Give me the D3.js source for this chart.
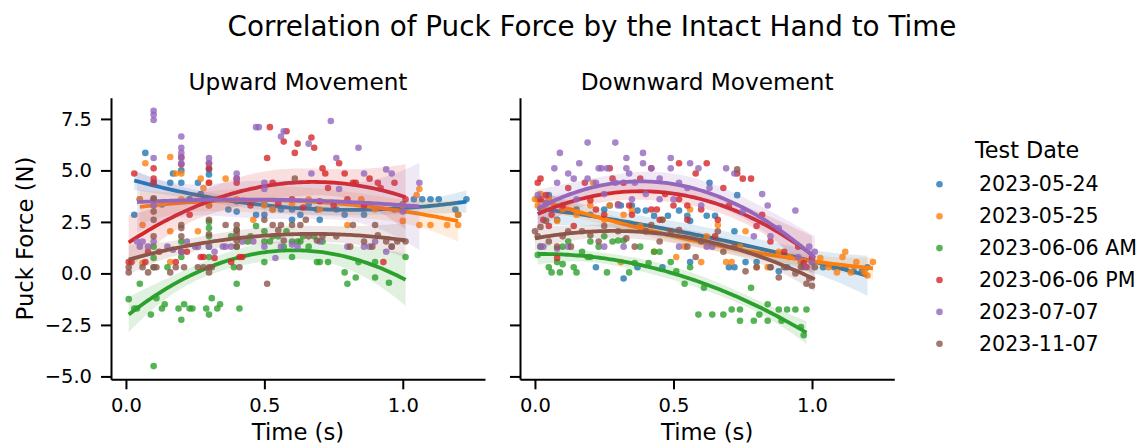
<!DOCTYPE html>
<html>
<head>
<meta charset="utf-8">
<script src="https://cdn.jsdelivr.net/npm/d3@7"></script>
<style>
  body { margin: 0; background: #fff; }
  svg { font-family: "DejaVu Sans", sans-serif; }
</style>
</head>
<body>
<div id="chart"></div>
<script>
// Test dates (hue levels) and tab10 colours
var dates = ["2023-05-24", "2023-05-25", "2023-06-06 AM", "2023-06-06 PM", "2023-07-07", "2023-11-07"];
var colors = ["#1f77b4", "#ff7f0e", "#2ca02c", "#d62728", "#9467bd", "#8c564b"];
var panels = ["Upward Movement", "Downward Movement"];
var xTicks = [0.0, 0.5, 1.0];
var yTicks = [-5.0, -2.5, 0.0, 2.5, 5.0, 7.5];

// [time (s), force (N)] -- upward movement
var up0524 = [[0.03,2.85],[0.05,3.6],[0.07,5.85],[0.1,4.4],[0.1,3.6],[0.13,3.35],[0.16,4.4],[0.17,4.85],[0.2,4.4],[0.2,5.0],[0.23,3.6],[0.26,4.4],[0.27,3.85],[0.3,5.05],[0.3,4.8],[0.3,3.3],[0.37,3.1],[0.4,3.0],[0.4,3.5],[0.47,2.85],[0.5,2.85],[0.5,3.35],[0.53,3.1],[0.56,3.1],[0.6,2.6],[0.6,3.1],[0.63,2.85],[0.66,3.35],[0.69,3.1],[0.7,2.6],[0.76,3.1],[0.79,2.85],[0.85,3.35],[0.86,2.85],[0.88,3.35],[0.97,3.1],[1.0,3.35],[1.04,3.6],[1.07,3.6],[1.1,3.6],[1.13,3.6],[1.19,3.1],[1.2,2.85],[1.23,3.6]];
var up0525 = [[0.05,3.6],[0.06,2.35],[0.06,0.5],[0.07,5.35],[0.1,3.3],[0.16,5.65],[0.16,2.05],[0.16,0.55],[0.18,4.85],[0.2,4.85],[0.2,3.6],[0.26,2.05],[0.27,4.6],[0.28,4.15],[0.3,4.4],[0.3,3.3],[0.36,4.6],[0.4,3.6],[0.46,2.6],[0.5,3.3],[0.53,3.1],[0.6,3.4],[0.66,3.6],[0.7,3.1],[0.8,2.35],[0.85,3.6],[0.9,3.1],[1.0,2.55],[1.0,3.3],[1.05,3.8],[1.06,4.1],[1.06,2.35],[1.1,2.35],[1.16,2.35],[1.2,2.35],[1.2,2.85]];
var up0606am = [[0.01,-1.25],[0.03,-1.7],[0.04,-1.7],[0.05,-0.5],[0.09,-2.0],[0.1,0.75],[0.1,1.3],[0.1,0.3],[0.1,-4.5],[0.11,-1.2],[0.13,-1.7],[0.14,-1.5],[0.15,0.3],[0.19,-1.7],[0.2,-2.25],[0.2,0.8],[0.2,1.55],[0.21,-1.5],[0.23,-1.7],[0.24,-1.7],[0.29,-1.7],[0.3,-2.0],[0.3,2.5],[0.3,1.8],[0.3,1.3],[0.3,0.8],[0.3,2.2],[0.31,-1.2],[0.33,-1.7],[0.34,-1.5],[0.38,1.8],[0.39,0.3],[0.4,-0.5],[0.4,2.1],[0.4,1.3],[0.41,-1.7],[0.44,1.55],[0.45,1.8],[0.47,2.3],[0.5,0.55],[0.5,1.55],[0.5,2.05],[0.52,1.55],[0.53,1.8],[0.55,1.8],[0.57,1.3],[0.58,2.05],[0.6,1.55],[0.6,0.8],[0.62,1.55],[0.63,1.55],[0.64,1.8],[0.66,1.3],[0.68,1.8],[0.69,0.55],[0.7,0.55],[0.71,1.55],[0.73,0.55],[0.79,0.05],[0.8,-0.5],[0.83,-0.2],[0.84,0.55],[0.9,-0.2],[0.9,0.55],[0.95,-0.45],[1.01,0.8]];
var up0606pm = [[0.01,0.55],[0.02,0.55],[0.03,4.85],[0.07,0.55],[0.08,1.05],[0.1,5.1],[0.1,4.6],[0.1,4.4],[0.12,1.05],[0.18,0.55],[0.2,5.65],[0.2,5.3],[0.2,1.05],[0.22,1.05],[0.23,2.85],[0.27,0.8],[0.28,0.8],[0.3,5.35],[0.3,5.1],[0.3,4.4],[0.32,0.75],[0.38,0.55],[0.4,4.6],[0.4,4.4],[0.41,0.8],[0.42,0.8],[0.45,3.3],[0.51,5.6],[0.52,7.1],[0.53,4.4],[0.55,3.4],[0.57,6.4],[0.58,6.9],[0.6,3.6],[0.61,5.85],[0.62,6.3],[0.64,3.2],[0.67,6.6],[0.68,6.1],[0.7,3.5],[0.71,5.1],[0.72,4.85],[0.73,4.15],[0.75,3.3],[0.77,5.35],[0.79,4.85],[0.8,3.6],[0.82,4.4],[0.83,4.4],[0.86,3.3],[0.88,4.6],[0.91,4.4],[0.92,4.15],[0.93,0.55],[0.97,4.4],[1.01,3.6]];
var up0707 = [[0.04,1.55],[0.05,1.3],[0.06,1.55],[0.08,1.3],[0.1,7.9],[0.1,7.7],[0.1,7.45],[0.1,5.6],[0.1,3.3],[0.1,1.55],[0.15,1.3],[0.17,1.15],[0.2,6.65],[0.2,6.1],[0.2,5.85],[0.2,5.6],[0.2,5.35],[0.2,1.05],[0.22,1.55],[0.25,1.3],[0.26,1.3],[0.3,5.6],[0.3,5.35],[0.3,1.3],[0.32,1.05],[0.35,1.3],[0.36,1.3],[0.38,1.3],[0.4,4.85],[0.4,4.6],[0.42,1.55],[0.46,1.55],[0.47,7.1],[0.48,7.1],[0.5,4.4],[0.5,4.1],[0.5,1.3],[0.54,0.75],[0.56,1.3],[0.56,6.65],[0.57,6.9],[0.6,1.4],[0.62,1.3],[0.66,6.3],[0.67,4.85],[0.7,1.55],[0.74,7.4],[0.76,5.6],[0.77,4.1],[0.8,1.3],[0.84,6.1],[0.86,4.85],[0.86,1.3],[0.88,1.3],[0.9,1.55],[0.94,5.05],[0.96,4.85],[0.94,1.05],[0.96,1.3],[1.0,3.0],[1.06,4.4]];
var up1107 = [[0.01,0.05],[0.01,0.3],[0.06,0.3],[0.08,0.05],[0.1,0.3],[0.1,1.8],[0.1,2.6],[0.1,3.0],[0.1,3.65],[0.11,0.3],[0.16,0.05],[0.18,0.3],[0.2,1.8],[0.2,2.35],[0.2,2.2],[0.21,0.3],[0.26,0.3],[0.28,0.3],[0.3,0.3],[0.3,0.05],[0.3,1.9],[0.3,2.6],[0.31,0.3],[0.36,2.35],[0.4,1.9],[0.4,2.35],[0.4,2.1],[0.4,1.6],[0.4,1.3],[0.41,0.3],[0.5,2.6],[0.51,-0.5],[0.53,2.35],[0.55,2.1],[0.56,2.35],[0.57,1.6],[0.6,2.35],[0.61,4.6],[0.63,2.35],[0.65,2.6],[0.66,1.8],[0.69,1.6],[0.71,1.8],[0.76,1.8],[0.81,1.3],[0.82,2.35],[0.86,1.55],[0.89,1.3],[0.9,2.35],[0.91,1.85],[0.94,1.55],[0.96,1.3],[0.98,1.55],[1.01,1.55]];

// downward movement
var dn0524 = [[0.01,3.6],[0.02,3.15],[0.04,3.4],[0.05,3.8],[0.08,2.6],[0.1,3.1],[0.15,3.1],[0.2,2.85],[0.22,0.3],[0.25,3.1],[0.27,3.3],[0.31,3.3],[0.32,-0.25],[0.35,3.3],[0.37,3.05],[0.37,0.3],[0.4,3.05],[0.4,2.05],[0.43,2.8],[0.46,0.3],[0.48,2.8],[0.52,3.05],[0.55,2.8],[0.56,0.55],[0.56,2.55],[0.62,2.8],[0.63,4.4],[0.65,2.8],[0.7,0.3],[0.72,0.3],[0.72,2.05],[0.73,3.8],[0.76,0.55],[0.8,0.55],[0.85,0.3],[0.88,0.1],[0.91,0.3],[0.96,0.55],[1.0,0.55],[1.04,0.3],[1.08,0.3],[1.12,0.3],[1.15,0.1],[1.18,0.1],[1.2,0.3]];
var dn0525 = [[0.0,3.6],[0.01,3.3],[0.02,3.85],[0.03,3.1],[0.05,3.6],[0.08,2.55],[0.1,3.1],[0.15,2.85],[0.2,3.3],[0.21,4.4],[0.25,2.6],[0.27,3.3],[0.31,0.55],[0.32,2.85],[0.35,3.05],[0.38,2.3],[0.43,1.05],[0.46,2.6],[0.51,0.8],[0.54,1.3],[0.56,3.1],[0.6,0.55],[0.62,1.8],[0.66,2.35],[0.69,0.55],[0.71,0.55],[0.74,1.3],[0.76,2.05],[0.8,0.3],[0.84,0.3],[0.88,1.05],[0.92,0.8],[0.96,0.55],[1.0,0.8],[1.03,0.75],[1.06,0.3],[1.09,0.05],[1.11,0.8],[1.12,1.05],[1.14,0.05],[1.16,0.55],[1.19,0.05],[1.2,-0.1],[1.22,0.55]];
var dn0606am = [[0.01,0.9],[0.02,1.3],[0.05,0.3],[0.06,0.05],[0.08,0.55],[0.09,0.05],[0.1,0.45],[0.1,1.3],[0.12,1.55],[0.14,0.3],[0.15,0.05],[0.17,1.05],[0.19,0.8],[0.2,0.8],[0.2,1.55],[0.23,1.3],[0.25,1.8],[0.26,0.05],[0.28,1.55],[0.3,1.6],[0.32,1.6],[0.34,0.05],[0.36,0.5],[0.38,1.3],[0.41,0.5],[0.43,1.05],[0.45,1.05],[0.49,0.55],[0.51,0.1],[0.54,-0.5],[0.56,0.3],[0.59,-2.0],[0.61,-0.7],[0.64,-2.0],[0.68,-2.0],[0.71,-1.75],[0.74,-1.75],[0.74,-2.3],[0.78,-0.7],[0.79,-2.3],[0.81,-2.0],[0.84,-1.5],[0.84,-2.3],[0.88,-1.75],[0.89,-2.3],[0.91,-1.75],[0.94,-1.75],[0.96,-2.6],[0.97,-3.0],[0.98,-1.75]];
var dn0606pm = [[0.01,4.4],[0.02,4.6],[0.02,3.6],[0.03,2.6],[0.04,3.8],[0.05,2.3],[0.06,2.85],[0.08,0.75],[0.1,3.3],[0.12,4.15],[0.14,2.3],[0.18,4.4],[0.2,3.55],[0.22,3.1],[0.25,2.85],[0.27,5.1],[0.28,4.6],[0.3,3.35],[0.32,4.4],[0.34,3.3],[0.35,2.85],[0.38,4.6],[0.42,5.1],[0.42,3.1],[0.44,3.1],[0.45,2.6],[0.47,3.85],[0.5,3.3],[0.52,5.35],[0.52,3.6],[0.55,3.3],[0.55,2.6],[0.58,4.85],[0.6,3.1],[0.62,5.35],[0.65,1.8],[0.66,2.6],[0.68,4.15],[0.7,3.3],[0.73,4.85],[0.75,4.6],[0.78,4.6],[0.8,2.3],[0.82,2.85],[0.85,1.55],[0.9,1.05],[0.95,1.3],[0.97,0.5],[0.98,0.3],[1.0,0.75]];
var dn0707 = [[0.01,3.8],[0.02,1.3],[0.03,1.3],[0.04,3.4],[0.07,5.1],[0.08,4.4],[0.09,5.85],[0.08,1.2],[0.12,4.85],[0.12,1.3],[0.14,4.6],[0.15,3.6],[0.16,5.35],[0.19,6.35],[0.19,4.6],[0.22,4.4],[0.23,5.1],[0.24,5.1],[0.25,3.85],[0.26,5.1],[0.25,1.3],[0.29,6.35],[0.29,4.4],[0.3,3.3],[0.32,1.3],[0.33,5.6],[0.33,5.1],[0.34,4.85],[0.35,3.6],[0.36,4.4],[0.39,5.85],[0.39,5.35],[0.4,3.85],[0.42,5.1],[0.45,4.6],[0.45,3.6],[0.49,5.6],[0.49,5.1],[0.5,3.6],[0.52,4.4],[0.52,1.3],[0.55,4.15],[0.56,5.35],[0.59,5.1],[0.6,3.3],[0.62,1.3],[0.63,4.15],[0.64,1.3],[0.69,5.1],[0.72,4.85],[0.75,3.0],[0.79,1.8],[0.82,3.85],[0.84,3.3],[0.85,1.8],[0.88,2.2],[0.94,3.05],[0.95,0.8],[0.97,0.3],[0.99,1.3],[1.0,0.55],[1.01,1.05]];
var dn1107 = [[0.0,2.05],[0.01,1.8],[0.02,2.25],[0.04,2.55],[0.05,1.55],[0.08,1.3],[0.1,1.8],[0.12,2.05],[0.13,1.3],[0.17,2.05],[0.2,1.85],[0.23,1.55],[0.25,2.3],[0.3,2.05],[0.33,1.7],[0.36,1.3],[0.4,2.05],[0.42,2.35],[0.45,1.55],[0.46,2.6],[0.49,2.05],[0.52,2.1],[0.55,1.3],[0.58,0.8],[0.6,1.55],[0.66,2.05],[0.68,1.05],[0.72,1.3],[0.73,5.05],[0.76,0.1],[0.8,0.3],[0.85,0.3],[0.88,-0.2],[0.9,0.3],[0.94,0.0],[0.96,0.3],[0.98,-0.5],[0.99,-0.25],[1.0,-0.6],[1.01,0.3]];

var upSeries = [up0524, up0525, up0606am, up0606pm, up0707, up1107];
var dnSeries = [dn0524, dn0525, dn0606am, dn0606pm, dn0707, dn1107];

var W = 1141, H = 445;
var plotTop = 97.7, plotBottom = 379.3;
var axesX = [[111, 485], [520, 894.3]];

var svg = d3.select("#chart").append("svg")
    .attr("width", W)
    .attr("height", H);

var y = d3.scaleLinear().domain([-5.14, 8.53]).range([plotBottom, plotTop]);

// quadratic least squares fit + 95% band for the mean (like regplot order=2)
function solve3(A, b) {
    var M = A.map((r, i) => r.concat([b[i]]));
    for (var i = 0; i < 3; i++) {
        var p = i;
        for (var k = i + 1; k < 3; k++) if (Math.abs(M[k][i]) > Math.abs(M[p][i])) p = k;
        var tmp = M[i]; M[i] = M[p]; M[p] = tmp;
        for (var k = 0; k < 3; k++) {
            if (k === i) continue;
            var f = M[k][i] / M[i][i];
            for (var j = i; j < 4; j++) M[k][j] -= f * M[i][j];
        }
    }
    return M.map((r, i) => r[3] / r[i]);
}
function invert3(A) {
    var cols = [[1,0,0],[0,1,0],[0,0,1]].map(e => solve3(A, e));
    return [0,1,2].map(i => [0,1,2].map(j => cols[j][i]));
}
function quadFit(pts) {
    var XtX = [[0,0,0],[0,0,0],[0,0,0]], Xty = [0,0,0];
    pts.forEach(function(p) {
        var v = [1, p[0], p[0] * p[0]];
        for (var i = 0; i < 3; i++) {
            Xty[i] += v[i] * p[1];
            for (var j = 0; j < 3; j++) XtX[i][j] += v[i] * v[j];
        }
    });
    var beta = solve3(XtX, Xty);
    var inv = invert3(XtX);
    var sse = d3.sum(pts, p => Math.pow(p[1] - (beta[0] + beta[1] * p[0] + beta[2] * p[0] * p[0]), 2));
    var s2 = sse / (pts.length - 3);
    var x0 = d3.min(pts, p => p[0]), x1 = d3.max(pts, p => p[0]);
    return d3.range(101).map(function(i) {
        var t = x0 + (x1 - x0) * i / 100;
        var v = [1, t, t * t];
        var yhat = beta[0] + beta[1] * t + beta[2] * t * t;
        var q = 0;
        for (var a = 0; a < 3; a++) for (var b = 0; b < 3; b++) q += v[a] * inv[a][b] * v[b];
        var se = Math.sqrt(s2 * q);
        return { t: t, y: yhat, lo: yhat - 1.96 * se, hi: yhat + 1.96 * se };
    });
}

[upSeries, dnSeries].forEach(function(seriesList, pi) {
    var x = d3.scaleLinear().domain([-0.054, 1.297]).range(axesX[pi]);
    var g = svg.append("g");

    var clip = "clip" + pi;
    svg.append("clipPath").attr("id", clip).append("rect")
        .attr("x", axesX[pi][0]).attr("y", plotTop)
        .attr("width", axesX[pi][1] - axesX[pi][0]).attr("height", plotBottom - plotTop);
    var plot = g.append("g").attr("clip-path", "url(#" + clip + ")");

    seriesList.forEach(function(pts, si) {
        var c = colors[si];
        plot.append("g").selectAll("circle")
            .data(pts)
            .enter().append("circle")
            .attr("cx", d => x(d[0]))
            .attr("cy", d => y(d[1]))
            .attr("r", 3.3)
            .attr("fill", c)
            .attr("fill-opacity", 0.8);

        var fit = quadFit(pts);
        plot.append("path")
            .datum(fit)
            .attr("fill", c)
            .attr("fill-opacity", 0.15)
            .attr("d", d3.area().x(d => x(d.t)).y0(d => y(d.lo)).y1(d => y(d.hi)));
        plot.append("path")
            .datum(fit)
            .attr("fill", "none")
            .attr("stroke", c)
            .attr("stroke-width", 3.8)
            .attr("d", d3.line().x(d => x(d.t)).y(d => y(d.y)));
    });

    // axes
    var xAxis = g.append("g")
        .attr("transform", "translate(0," + plotBottom + ")")
        .call(d3.axisBottom(x).tickValues(xTicks).tickFormat(d3.format(".1f")).tickSize(10).tickPadding(8.5).tickSizeOuter(0));
    var yAxis = g.append("g")
        .attr("transform", "translate(" + axesX[pi][0] + ",0)")
        .call(d3.axisLeft(y).tickValues(yTicks).tickFormat(pi === 0 ? d3.format(".1f") : "").tickSize(10).tickPadding(9).tickSizeOuter(0));
    [xAxis, yAxis].forEach(function(a) {
        a.select(".domain").attr("stroke", "#000").attr("stroke-width", 2);
        a.selectAll(".tick line").attr("stroke", "#000").attr("stroke-width", 2);
        a.selectAll(".tick text").attr("fill", "#000").style("font-size", "19.5px").style("font-family", "DejaVu Sans");
    });

    svg.append("text")
        .attr("x", (axesX[pi][0] + axesX[pi][1]) / 2)
        .attr("y", 89.5)
        .attr("text-anchor", "middle")
        .style("font-size", "23.2px")
        .text(panels[pi]);

    svg.append("text")
        .attr("x", (axesX[pi][0] + axesX[pi][1]) / 2)
        .attr("y", 440)
        .attr("text-anchor", "middle")
        .style("font-size", "22.7px")
        .text("Time (s)");
});

svg.append("text")
    .attr("transform", "translate(32.5," + (plotTop + plotBottom) / 2 + ") rotate(-90)")
    .attr("text-anchor", "middle")
    .style("font-size", "22.7px")
    .text("Puck Force (N)");

svg.append("text")
    .attr("x", 592)
    .attr("y", 36)
    .attr("text-anchor", "middle")
    .style("font-size", "27.8px")
    .text("Correlation of Puck Force by the Intact Hand to Time");

// legend
var legend = svg.append("g");
legend.append("text")
    .attr("x", 975).attr("y", 158)
    .style("font-size", "22.3px")
    .text("Test Date");
dates.forEach(function(d, i) {
    var ly = 184.3 + i * 31.9;
    legend.append("circle")
        .attr("cx", 939.5).attr("cy", ly)
        .attr("r", 3.3)
        .attr("fill", colors[i]).attr("fill-opacity", 0.8);
    legend.append("text")
        .attr("x", 979).attr("y", ly + 6.7)
        .style("font-size", "20.6px")
        .text(d);
});
</script>
</body>
</html>
